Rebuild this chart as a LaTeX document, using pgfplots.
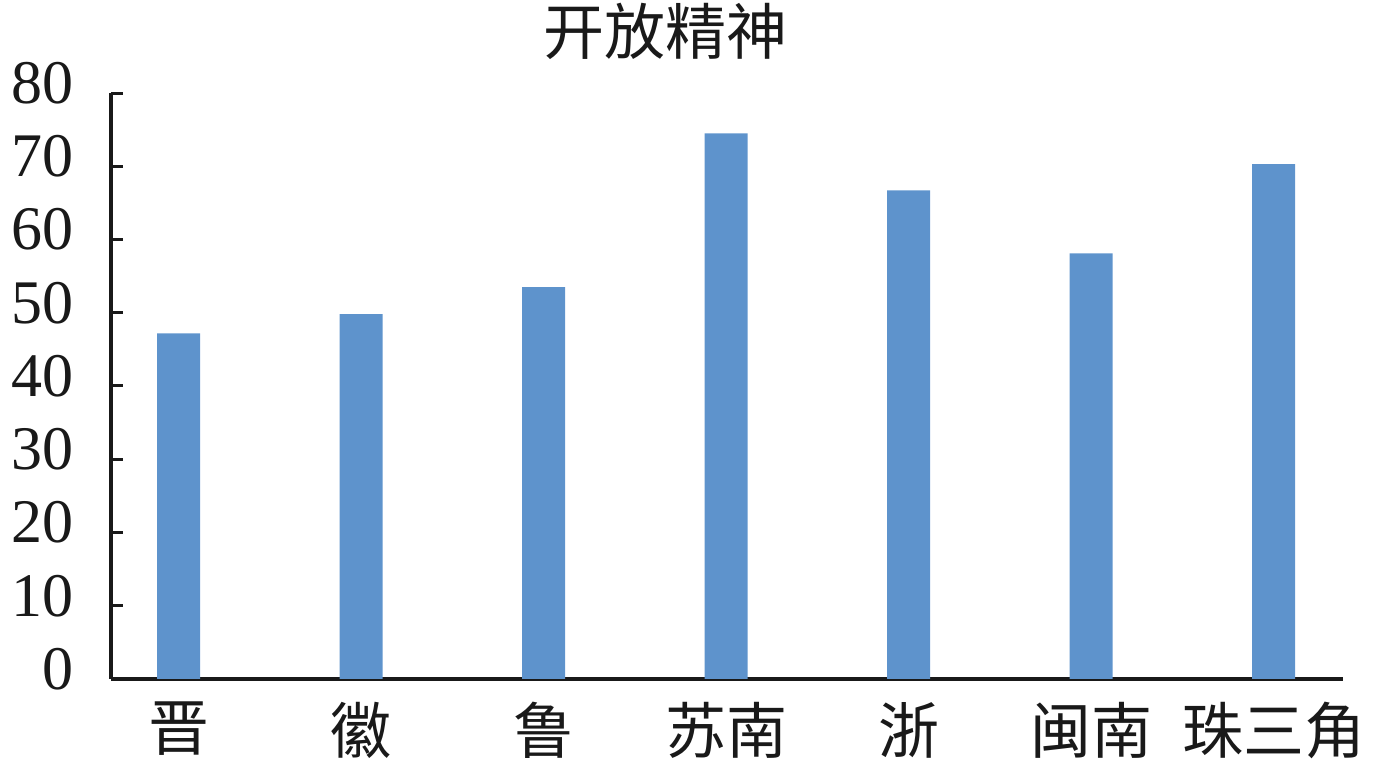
\documentclass[border=0pt]{standalone}
\usepackage{pgfplots}
\pgfplotsset{compat=1.18}
\usepackage{fontspec}
\setmainfont{Liberation Serif}
\newfontfamily\cjk{Noto Sans CJK SC}
\definecolor{barblue}{RGB}{94,147,204}
\begin{document}
\begin{tikzpicture}
\begin{axis}[
  scale only axis,
  width=616pt, height=293pt,
  xmin=-0.37, xmax=6.38,
  ymin=0, ymax=80,
  axis x line*=bottom,
  axis y line*=left,
  axis line style={line width=1.6pt, black!90},
  ytick={0,10,...,80},
  xtick={0,1,2,3,4,5,6},
  xticklabels={晋,徽,鲁,苏南,浙,闽南,珠三角},
  x tick style={draw=none},
  y tick style={line width=1.5pt, black!90},
  tick align=inside,
  major tick length=6pt,
  /pgf/number format/assume math mode=true,
  yticklabel style={font=\fontsize{31}{31}\selectfont, xshift=-15pt, yshift=5pt, text=black!90},
  xticklabel style={font=\cjk\fontsize{30.5}{30.5}\selectfont, text=black!90, yshift=-8pt},
  clip=false,
]
\addplot[ybar, bar width=21.5pt, fill=barblue, draw=none] coordinates {
  (0,47.2) (1,49.8) (2,53.5) (3,74.5) (4,66.7) (5,58.1) (6,70.3)
};
\coordinate (sw) at (rel axis cs:0,0);
\coordinate (ne) at (rel axis cs:1,1);
\node[font=\cjk\fontsize{30.5}{30.5}\selectfont, text=black!90] at (rel axis cs:0.45,1) [yshift=31pt] {开放精神};
\end{axis}
\pgfresetboundingbox
\path ([shift={(-55.5pt,-42.5pt)}]sw) rectangle ([shift={(17.5pt,46.5pt)}]ne);
\end{tikzpicture}
\end{document}
